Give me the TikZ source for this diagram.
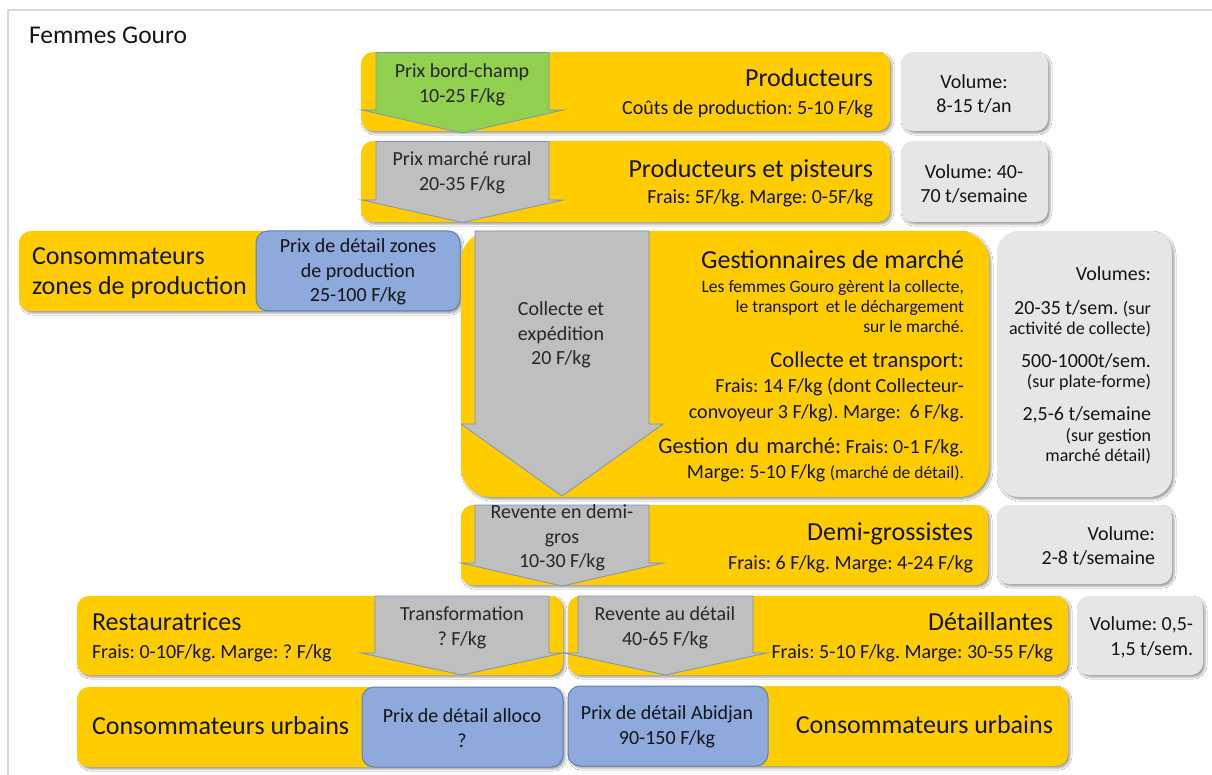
\documentclass[tikz,border=0pt]{standalone}
\usepackage{fontspec}
\setmainfont{Carlito}
\usetikzlibrary{shadows.blur}
\frenchspacing
\definecolor{jaune}{HTML}{FFCC00}
\definecolor{grisfl}{HTML}{BFBFBF}
\definecolor{vertfl}{HTML}{92D050}
\definecolor{bordfl}{HTML}{7496BF}
\definecolor{bleuprix}{HTML}{8EA9DB}
\definecolor{bordbleu}{HTML}{5E80B4}
\definecolor{grisvol}{HTML}{E6E6E6}
\definecolor{cadre}{HTML}{D9D9D9}
\definecolor{encre}{HTML}{141414}
\newcommand\szT{\fontsize{26}{30}\selectfont}
\newcommand\szC{\fontsize{22.5}{26}\selectfont}
\newcommand\szN{\fontsize{20}{24.5}\selectfont}
\newcommand\szS{\fontsize{17.5}{20.5}\selectfont}
\newcommand\szV{\fontsize{18}{21}\selectfont}
% block arrow pointing down: style, body left, body right, top, shoulder, tip
\newcommand\flechebloc[6]{%
  \draw[#1] (#2,#4) -- (#3,#4) -- (#3,#5) -- ({#3+14},#5) -- ({(#2+#3)/2},#6)
    -- ({#2-14},#5) -- (#2,#5) -- cycle;}
\begin{document}
\begin{tikzpicture}[x=1pt,y=-1pt,
  ombre/.style={blur shadow={shadow xshift=2pt,shadow yshift=-2.2pt,shadow blur radius=2pt,shadow opacity=38}},
  boite/.style={inner sep=0pt,outer sep=0pt,anchor=north west,rounded corners=12pt},
  ybox/.style={boite,fill=jaune,ombre},
  vbox/.style={boite,fill=grisvol,ombre},
  bbox/.style={boite,fill=bleuprix,draw=bordbleu,line width=1pt},
  flgris/.style={fill=grisfl,draw=bordfl,line width=0.8pt,line join=miter},
  flvert/.style={fill=vertfl,draw=bordfl,line width=0.8pt,line join=miter},
  lbl/.style={inner sep=0pt,outer sep=0pt,text=encre},
  fltxt/.style={lbl,align=center,font=\szN,text=black!85}]
\useasboundingbox (0,0) rectangle (1212,775);
\fill[white] (0,0) rectangle (1212,775);
\draw[cadre,line width=2pt] (8,775) -- (8,10) -- (1212,10);

\node[lbl,anchor=mid west,font=\fontsize{25.5}{29}\selectfont] (titre) at (29,41) {Femmes Gouro};

% yellow stage boxes and grey volume boxes
\node[ybox,minimum width=529pt,minimum height=79pt] (prod) at (361,52) {};
\node[vbox,minimum width=147pt,minimum height=79pt] (volA) at (901,52) {};
\node[ybox,minimum width=529pt,minimum height=81pt] (pist) at (361,141) {};
\node[vbox,minimum width=147pt,minimum height=81pt] (volB) at (901,141) {};
\node[ybox,minimum width=441pt,minimum height=80pt] (conso) at (19,231) {};
\node[ybox,minimum width=528pt,minimum height=266pt,rounded corners=30pt] (gest) at (461,231) {};
\node[vbox,minimum width=175pt,minimum height=266pt,rounded corners=22pt] (volC) at (997,231) {};
\node[ybox,minimum width=527pt,minimum height=80pt] (demi) at (461,505) {};
\node[vbox,minimum width=175pt,minimum height=79pt] (volD) at (997,505) {};
\node[ybox,minimum width=486pt,minimum height=79pt] (resto) at (77,596) {};
\node[ybox,minimum width=500pt,minimum height=79pt] (detail) at (568,596) {};
\node[vbox,minimum width=126pt,minimum height=79pt] (volE) at (1077,596) {};
\node[ybox,minimum width=486pt,minimum height=80pt] (urbA) at (77,687) {};
\node[ybox,minimum width=500pt,minimum height=80pt] (urbB) at (568,686) {};

% retail price boxes
\node[bbox,minimum width=204pt,minimum height=80pt] (bleuZ) at (256,231) {};
\node[bbox,minimum width=201pt,minimum height=80pt] (bleuA) at (362,687) {};
\node[bbox,minimum width=200pt,minimum height=80pt] (bleuB) at (568,686) {};

% price flow arrows
\flechebloc{flvert}{376}{549}{52.5}{110}{133}
\flechebloc{flgris}{376}{549}{141.5}{200}{222.5}
\flechebloc{flgris}{475}{649}{231}{424}{496}
\flechebloc{flgris}{475}{649}{505}{563}{586}
\flechebloc{flgris}{375}{549}{596}{653}{675}
\flechebloc{flgris}{578}{753}{596}{653}{675}

% arrow labels
\node[fltxt] (fA) at (462,85) {Prix bord-champ\\10-25 F/kg};
\node[fltxt] (fB) at (462,173) {Prix marché rural\\20-35 F/kg};
\node[fltxt] (fC) at (561,335) {Collecte et\\expédition\\20 F/kg};
\node[fltxt] (fD) at (562,538) {Revente en demi-\\gros\\10-30 F/kg};
\node[fltxt] (fE) at (462,628) {Transformation\\? F/kg};
\node[fltxt] (fF) at (665,628) {Revente au détail\\40-65 F/kg};

% producers
\node[lbl,anchor=mid east,font=\szT] (t1) at (873,84.5) {Producteurs};
\node[lbl,anchor=mid east,font=\szN] (s1) at (873,112) {Coûts de production: 5-10 F/kg};
\node[lbl,align=center,font=\szN] (v1) at (974,94) {Volume:\\8-15 t/an};
% producers and trackers
\node[lbl,anchor=mid east,font=\szT] (t2) at (873,175.5) {Producteurs et pisteurs};
\node[lbl,anchor=mid east,font=\szN] (s2) at (873,201) {Frais: 5F/kg. Marge: 0-5F/kg};
\node[lbl,align=center,font=\szN] (v2) at (974,184) {Volume: 40-\\70 t/semaine};

% consumers in production zones
\node[lbl,anchor=mid west,font=\szT] (t3a) at (32,262.5) {Consommateurs};
\node[lbl,anchor=mid west,font=\szT] (t3b) at (32,292.5) {zones de production};
\node[fltxt,text=encre] (pz) at (358,272) {Prix de détail zones\\de production\\25-100 F/kg};

% market managers
\node[lbl,anchor=mid east,font=\szT] (g1) at (964,266.5) {Gestionnaires de marché};
\node[lbl,anchor=mid east,font=\szS] (g2) at (964,290) {Les femmes Gouro gèrent la collecte,};
\node[lbl,anchor=mid east,font=\szS] (g3) at (964,310) {le transport\hspace{3pt} et le déchargement};
\node[lbl,anchor=mid east,font=\szS] (g4) at (964,330) {sur le marché.};
\node[lbl,anchor=mid east,font=\szC] (g5) at (964,365.5) {Collecte et transport:};
\node[lbl,anchor=mid east,font=\szN] (g6) at (964,390) {Frais: 14 F/kg (dont Collecteur-};
\node[lbl,anchor=mid east,font=\szN] (g7) at (964,416) {convoyeur 3 F/kg). Marge:\hspace{4pt} 6 F/kg.};
\node[lbl,anchor=mid east,font=\szN] (g8) at (964,451) {{\szC Gestion\hspace{2pt} du\hspace{2pt} marché:} Frais: 0-1 F/kg.};
\node[lbl,anchor=mid east,font=\szN] (g9) at (964,476) {Marge: 5-10 F/kg {\szS(marché de détail).}};

% volumes of the market stage
\node[lbl,anchor=mid east,font=\szN] (w1) at (1151,278) {Volumes:};
\node[lbl,anchor=mid east,font=\szN] (w2) at (1151,312) {20-35 t/sem. {\szV(sur}};
\node[lbl,anchor=mid east,font=\szV] (w3) at (1151,332) {activité de collecte)};
\node[lbl,anchor=mid east,font=\szN] (w4) at (1151,365) {500-1000t/sem.};
\node[lbl,anchor=mid east,font=\szV] (w5) at (1151,385) {(sur plate-forme)};
\node[lbl,anchor=mid east,font=\szN] (w6) at (1151,418) {2,5-6 t/semaine};
\node[lbl,anchor=mid east,font=\szV] (w7) at (1151,439) {(sur gestion};
\node[lbl,anchor=mid east,font=\szV] (w8) at (1151,459) {marché détail)};

% semi-wholesalers
\node[lbl,anchor=mid east,font=\szT] (t4) at (973,538.5) {Demi-grossistes};
\node[lbl,anchor=mid east,font=\szN] (s4) at (973,567) {Frais: 6 F/kg. Marge: 4-24 F/kg};
\node[lbl,anchor=mid east,font=\szN] (v4a) at (1155,538) {Volume:};
\node[lbl,anchor=mid east,font=\szN] (v4b) at (1155,562) {2-8 t/semaine};

% caterers and retailers
\node[lbl,anchor=mid west,font=\szT] (t5) at (92,628.5) {Restauratrices};
\node[lbl,anchor=mid west,font=\szN] (s5) at (92,656) {Frais: 0-10F/kg. Marge: ? F/kg};
\node[lbl,anchor=mid east,font=\szT] (t6) at (1053,628.5) {Détaillantes};
\node[lbl,anchor=mid east,font=\szN] (s6) at (1053,656) {Frais: 5-10 F/kg. Marge: 30-55 F/kg};
\node[lbl,anchor=mid east,font=\szN] (v5a) at (1193,628) {Volume: 0,5-};
\node[lbl,anchor=mid east,font=\szN] (v5b) at (1193,653) {1,5 t/sem.};

% urban consumers
\node[lbl,anchor=mid west,font=\szT] (t7) at (92,732.5) {Consommateurs urbains};
\node[fltxt,text=encre] (pa) at (462,728) {Prix de détail alloco\\?};
\node[lbl,anchor=mid east,font=\szT] (t8) at (1053,731.5) {Consommateurs urbains};
\node[fltxt,text=encre] (pb) at (667,727) {Prix de détail Abidjan\\90-150 F/kg};
\end{tikzpicture}
\end{document}
